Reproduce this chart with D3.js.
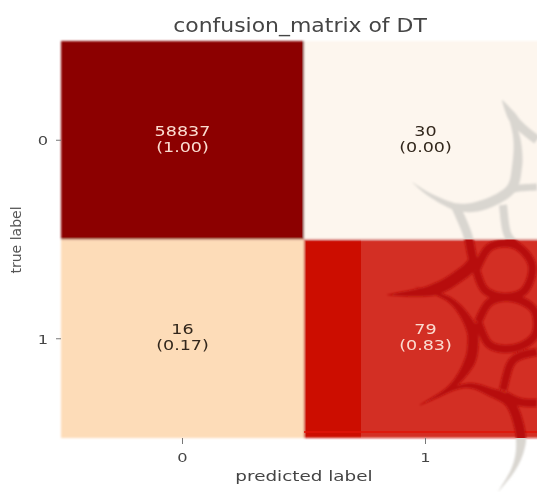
<!DOCTYPE html>
<html><head><meta charset="utf-8">
<script src="https://cdn.jsdelivr.net/npm/d3@7"></script>
<style>
html,body{margin:0;padding:0;background:#fff;overflow:hidden}
svg{display:block}
text{font-family:"DejaVu Sans",sans-serif}
</style></head><body>
<svg id="c" width="537" height="492"></svg>
<script>
const predictedLabels = ["0","1"];
const trueLabels = ["0","1"];
const counts = [58837,30,16,79];
const ratios = [1.00,0.00,0.17,0.83];
const title = "confusion_matrix of DT";
const colorStops = [0,0.17,0.83,1];
const colorRange = ["#fdf6ee","#fddcb8","#cc0a02","#8c0000"];
// Decorative background watermark strokes: [points, max width, tapered start, tapered end]
const watermarkStrokes = [
 [[[502,100],[510,116],[517,140],[517,167],[510,190],[483,205],[457,207],[430,195],[412,182]],10,1,1],
 [[[502,100],[517,123],[537,140]],9,1,0],
 [[[510,190],[520,188],[537,187]],7,0,0],
 [[[503,205],[507,233],[517,246]],8,0,0],
 [[[455,205],[467,233],[472,255],[476,270]],9,0,0],
 [[[476,270],[490,247],[515,245],[532,265],[525,290],[505,297],[485,290],[476,270]],8,0,0],
 [[[478,322],[490,302],[512,298],[534,310],[535,335],[515,348],[490,345],[478,322]],8,0,0],
 [[[387,295],[433,290],[463,273],[474,262]],12,1,0],
 [[[415,287],[450,300],[470,325],[473,345],[468,365],[450,388],[420,405]],11,1,1],
 [[[537,352],[520,356],[510,365],[503,390]],8,0,0],
 [[[505,395],[520,402],[537,403]],8,0,0],
 [[[420,405],[463,386],[490,392],[510,403],[520,430],[520,450],[513,470],[498,492]],10,1,1]
];

const svg = d3.select("#c");
const x = d3.scaleBand().domain(predictedLabels).range([61,547]);
const y = d3.scaleBand().domain(trueLabels).range([41,438]);
const color = d3.scaleLinear().domain(colorStops).range(colorRange);
const cells = d3.range(4).map(i=>({p:predictedLabels[i%2],t:trueLabels[Math.floor(i/2)],n:counts[i],r:ratios[i]}));

const defs = svg.append("defs");
defs.append("filter").attr("id","soft").attr("x","-5%").attr("y","-5%").attr("width","110%").attr("height","110%")
  .append("feGaussianBlur").attr("stdDeviation",1);
defs.append("filter").attr("id","softer").append("feGaussianBlur").attr("stdDeviation",0.45);
defs.append("clipPath").attr("id","inRed").append("rect")
  .attr("x",x("1")).attr("y",y("1")).attr("width",x.bandwidth()).attr("height",y.bandwidth());
const outer = defs.append("clipPath").attr("id","notRed");
outer.append("rect").attr("x",0).attr("y",0).attr("width",537).attr("height",y("1"));
outer.append("rect").attr("x",0).attr("y",y("1")+y.bandwidth()).attr("width",537).attr("height",60);

svg.append("g").attr("filter","url(#soft)").selectAll("rect").data(cells).join("rect")
  .attr("x",d=>x(d.p)).attr("y",d=>y(d.t))
  .attr("width",x.bandwidth()).attr("height",y.bandwidth())
  .attr("fill",d=>color(d.r));

// Watermark tint
svg.append("rect").attr("x",361).attr("y",y("1")).attr("width",176).attr("height",y.bandwidth())
  .attr("fill","#fff").attr("opacity",0.14);
svg.append("rect").attr("x",x("1")).attr("y",431).attr("width",x.bandwidth()).attr("height",2)
  .attr("fill","#e01408").attr("opacity",0.8);

function taperPath(pts,W,a,b){
  const n=pts.length-1, samples=[];
  const cr=(p0,p1,p2,p3,t)=>0.5*((2*p1)+(-p0+p2)*t+(2*p0-5*p1+4*p2-p3)*t*t+(-p0+3*p1-3*p2+p3)*t*t*t);
  for(let i=0;i<n;i++)for(let k=0;k<12;k++){
    const t=k/12,p0=pts[Math.max(i-1,0)],p1=pts[i],p2=pts[i+1],p3=pts[Math.min(i+2,n)];
    samples.push([cr(p0[0],p1[0],p2[0],p3[0],t),cr(p0[1],p1[1],p2[1],p3[1],t)]);
  }
  samples.push(pts[n]);
  const m=samples.length-1,L=[],R=[];
  samples.forEach((s,i)=>{
    const q=samples[Math.min(i+1,m)],r=samples[Math.max(i-1,0)];
    const dx=q[0]-r[0],dy=q[1]-r[1],l=Math.hypot(dx,dy)||1,u=i/m;
    let w=W;
    if(a) w*=Math.min(1,u/0.35);
    if(b) w*=Math.min(1,(1-u)/0.35);
    w=Math.max(w,0.3)/2;
    L.push([s[0]-dy/l*w,s[1]+dx/l*w]);R.push([s[0]+dy/l*w,s[1]-dx/l*w]);
  });
  return d3.line()(L.concat(R.reverse()))+"Z";
}
const marksOut = svg.append("g").attr("clip-path","url(#notRed)").append("g").attr("filter","url(#soft)");
const marksIn = svg.append("g").attr("clip-path","url(#inRed)").append("g").attr("filter","url(#soft)");
watermarkStrokes.forEach(([pts,W,a,b])=>{
  const d=taperPath(pts,W,a,b);
  marksOut.append("path").attr("d",d).attr("fill","#d9d6d0");
  marksIn.append("path").attr("d",d).attr("fill","#b70f0c");
});

const txt = svg.append("g").attr("filter","url(#softer)");
const stretched = (sel,px,py,s)=>sel.attr("transform",`translate(${px},${py}) scale(${s},1)`).attr("text-anchor","middle");
cells.forEach(d=>{
  const cx=x(d.p)+x.bandwidth()/2, cy=y(d.t)+y.bandwidth()/2;
  const fill=d.r>0.5?"#fbdcd0":"#33281c";
  stretched(txt.append("text").attr("font-size",13.5).attr("fill",fill).text(d.n),cx,cy-4.5,1.3);
  stretched(txt.append("text").attr("font-size",13.5).attr("fill",fill).text("("+d.r.toFixed(2)+")"),cx,cy+11.5,1.3);
});

const axB = txt.append("g").attr("transform","translate(0,438)")
  .call(d3.axisBottom(x).tickSize(6).tickPadding(20));
axB.select(".domain").remove();
const axL = txt.append("g").attr("transform","translate(61,0)")
  .call(d3.axisLeft(y).tickSize(5));
axL.select(".domain").remove();
axB.selectAll(".tick text").attr("y",null).attr("dy",null).attr("font-size",12.5).attr("fill","#444")
  .attr("transform","translate(0,24) scale(1.3,1)").style("font-family",'"DejaVu Sans",sans-serif');
axL.selectAll(".tick text").attr("x",null).attr("dy",null).attr("font-size",12.5).attr("fill","#444")
  .attr("text-anchor","middle").attr("transform","translate(-18,5) scale(1.3,1)").style("font-family",'"DejaVu Sans",sans-serif');
txt.selectAll(".tick line").attr("stroke","#777");

stretched(txt.append("text").attr("font-size",13.5).attr("fill","#444").text("predicted label"),304,481,1.36);
txt.append("text").attr("transform","translate(21,240) rotate(-90)").attr("text-anchor","middle")
  .attr("font-size",14).attr("fill","#555").text("true label");
stretched(txt.append("text").attr("font-size",19).attr("fill","#444").text(title),300,32,1.155);
</script></body></html>
